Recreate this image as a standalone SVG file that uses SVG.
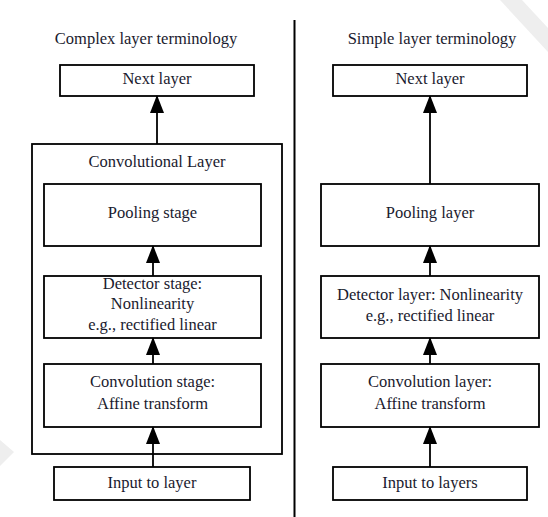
<svg xmlns="http://www.w3.org/2000/svg" width="548" height="517" viewBox="0 0 548 517">
<style>
  .box { fill: none; stroke: #000; stroke-width: 1.8; }
  .t { font-family: "Liberation Serif", "DejaVu Serif", serif; font-size: 16.5px; fill: #1a1a2e; text-anchor: middle; }
  .edge { stroke: #000; stroke-width: 1.8; fill: none; marker-end: url(#ah); }
  .wm { fill: #eeeeee; }
</style>
<defs>
  <marker id="ah" markerUnits="userSpaceOnUse" markerWidth="18" markerHeight="14" refX="17" refY="7" orient="auto" viewBox="0 0 18 14">
    <path d="M0,0 L18,7 L0,14 Z" fill="#000"/>
  </marker>
</defs>
<rect width="548" height="517" fill="#fff"/>
<g id="watermark">
  <polygon class="wm" points="500,0 522,0 548,28 548,52"/>
  <polygon class="wm" points="0,440 14,452 0,466"/>
</g>
<line x1="294.5" y1="20" x2="294.5" y2="517" stroke="#000" stroke-width="2"/>
<text class="t" x="146" y="44">Complex layer terminology</text>
<text class="t" x="432" y="44">Simple layer terminology</text>

<g id="connectors">
  <line class="edge" x1="157" y1="144" x2="157" y2="96"/>
  <line class="edge" x1="153" y1="276" x2="153" y2="246"/>
  <line class="edge" x1="153" y1="364" x2="153" y2="338"/>
  <line class="edge" x1="153" y1="467" x2="153" y2="427"/>
  <line class="edge" x1="430" y1="184" x2="430" y2="96"/>
  <line class="edge" x1="430" y1="276" x2="430" y2="246"/>
  <line class="edge" x1="430" y1="364" x2="430" y2="338"/>
  <line class="edge" x1="430" y1="467" x2="430" y2="427"/>
</g>

<g id="left-next">
  <rect class="box" x="60" y="65" width="194" height="31"/>
  <text class="t" x="157" y="84">Next layer</text>
</g>
<g id="conv-layer">
  <rect class="box" x="32" y="144" width="250" height="310"/>
  <text class="t" x="157" y="167">Convolutional Layer</text>
</g>
<g id="pooling-stage">
  <rect class="box" x="44" y="184" width="217" height="62"/>
  <text class="t" x="152.5" y="218">Pooling stage</text>
</g>
<g id="detector-stage">
  <rect class="box" x="44" y="276" width="217" height="62"/>
  <text class="t" x="152.5" y="289">Detector stage:</text>
  <text class="t" x="152.5" y="309">Nonlinearity</text>
  <text class="t" x="152.5" y="330">e.g., rectified linear</text>
</g>
<g id="convolution-stage">
  <rect class="box" x="44" y="364" width="217" height="63"/>
  <text class="t" x="152.5" y="387">Convolution stage:</text>
  <text class="t" x="152.5" y="409">Affine transform</text>
</g>
<g id="left-input">
  <rect class="box" x="54" y="467" width="196" height="33"/>
  <text class="t" x="152" y="488">Input to layer</text>
</g>

<g id="right-next">
  <rect class="box" x="333" y="65" width="194" height="31"/>
  <text class="t" x="430" y="84">Next layer</text>
</g>
<g id="pooling-layer">
  <rect class="box" x="321" y="184" width="218" height="62"/>
  <text class="t" x="430" y="218">Pooling layer</text>
</g>
<g id="detector-layer">
  <rect class="box" x="321" y="276" width="218" height="62"/>
  <text class="t" x="430" y="300">Detector layer: Nonlinearity</text>
  <text class="t" x="430" y="321">e.g., rectified linear</text>
</g>
<g id="convolution-layer">
  <rect class="box" x="321" y="364" width="218" height="63"/>
  <text class="t" x="430" y="387">Convolution layer:</text>
  <text class="t" x="430" y="409">Affine transform</text>
</g>
<g id="right-input">
  <rect class="box" x="333" y="467" width="194" height="33"/>
  <text class="t" x="430" y="488">Input to layers</text>
</g>
</svg>
